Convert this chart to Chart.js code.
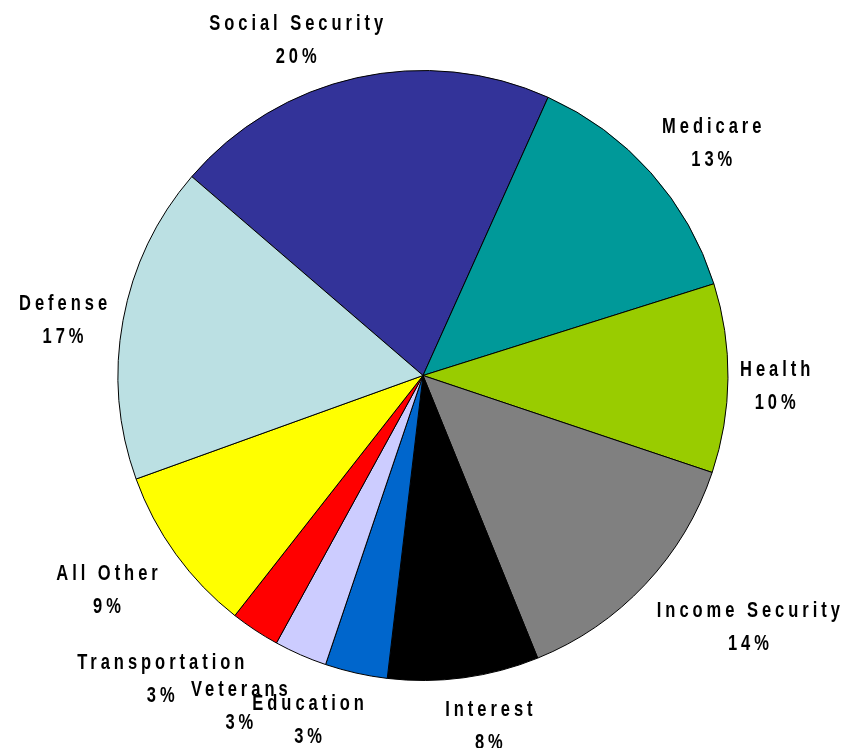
<!DOCTYPE html>
<html>
<head>
<meta charset="utf-8">
<script src="https://cdn.jsdelivr.net/npm/chart.js@4.4.1/dist/chart.umd.min.js"></script>
<style>
  html, body { margin: 0; padding: 0; background: #fff; }
  #wrap { width: 844px; height: 748px; }
</style>
</head>
<body>
<div id="wrap"><canvas id="budget"></canvas></div>
<script>
const categories = ['Social Security', 'Medicare', 'Health', 'Income Security', 'Interest',
  'Education', 'Veterans', 'Transportation', 'All Other', 'Defense'];
const shares = [20.4, 13.4, 10.0, 13.7, 8.0, 3.3, 2.8, 2.6, 8.9, 16.8];
const sliceColors = ['#333399', '#009999', '#99CC00', '#808080', '#000000',
  '#0066CC', '#CCCCFF', '#FF0000', '#FFFF00', '#BBE0E3'];

// small nudges so the crowded labels sit like the original (x, y)
const labelNudge = [[-38, 1], [11, -3], [-5, 7], [24, 15], [17, 9],
  [-32, 8], [-35, 14], [-39, 15], [-14, 12], [0, 7]];

// narrow bold look: draw a wider font squeezed horizontally
const squeeze = 0.75;

function drawNarrow(ctx, text, x, y) {
  ctx.save();
  ctx.translate(x, y);
  ctx.scale(squeeze, 1);
  ctx.fillText(text, 0, 0);
  ctx.restore();
}

const outsideLabels = {
  id: 'outsideLabels',
  afterDatasetsDraw(chart) {
    const ctx = chart.ctx;
    const meta = chart.getDatasetMeta(0);
    const data = chart.data.datasets[0].data;
    const total = data.reduce((a, b) => a + b, 0);
    ctx.save();
    ctx.font = 'bold 22px "Liberation Sans", Arial, sans-serif';
    ctx.letterSpacing = '5.3px';
    ctx.fillStyle = '#000';
    ctx.textAlign = 'center';
    ctx.textBaseline = 'middle';
    meta.data.forEach((arc, i) => {
      const mid = (arc.startAngle + arc.endAngle) / 2;
      const r = arc.outerRadius + 15;
      const name = chart.data.labels[i];
      const pct = Math.round(data[i] / total * 100) + '%';
      const w = Math.max(ctx.measureText(name).width, ctx.measureText(pct).width) * squeeze;
      const h = 50;
      const ax = arc.x + Math.cos(mid) * r;
      const ay = arc.y + Math.sin(mid) * r;
      const cx = ax + Math.cos(mid) * w / 2 + labelNudge[i][0];
      const cy = ay + Math.sin(mid) * h / 2 + labelNudge[i][1];
      drawNarrow(ctx, name, cx + 2, cy - 16);
      drawNarrow(ctx, pct, cx + 2, cy + 17);
    });
    ctx.restore();
  }
};

new Chart(document.getElementById('budget'), {
  type: 'pie',
  data: {
    labels: categories,
    datasets: [{
      data: shares,
      backgroundColor: sliceColors,
      borderColor: '#000',
      borderWidth: 1
    }]
  },
  options: {
    responsive: true,
    maintainAspectRatio: false,
    animation: false,
    rotation: -49.3,
    layout: { padding: { top: 70, bottom: 67, left: 117, right: 115 } },
    plugins: {
      legend: { display: false },
      tooltip: { enabled: false }
    }
  },
  plugins: [outsideLabels]
});
</script>
</body>
</html>
